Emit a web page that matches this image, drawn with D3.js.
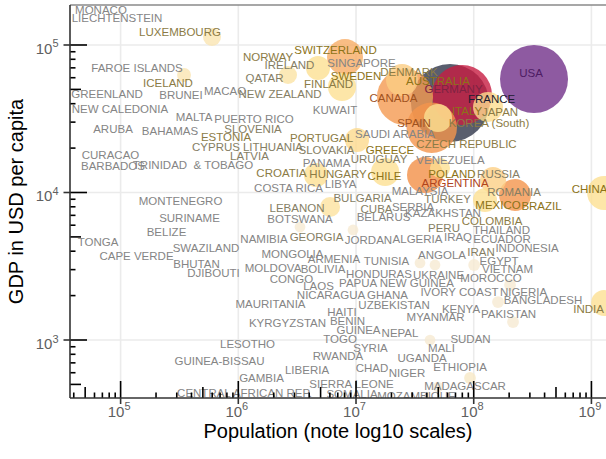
<!DOCTYPE html>
<html><head><meta charset="utf-8">
<script src="https://cdn.jsdelivr.net/npm/d3@7"></script>
<style>body{margin:0;background:#fff}svg{display:block;font-family:"Liberation Sans",Arial,Helvetica,sans-serif}</style>
</head><body><svg id="chart" width="606" height="459"></svg>
<script>
// ---- label data: country, label anchor (population, GDP per capita), colour score ----
const countries = ["MONACO","LIECHTENSTEIN","LUXEMBOURG","FAROE ISLANDS","ICELAND","GREENLAND","BRUNEI","MACAO","NEW CALEDONIA","MALTA","PUERTO RICO","ARUBA","BAHAMAS","ESTONIA","SLOVENIA","CYPRUS","LITHUANIA","LATVIA","CURACAO","BARBADOS","TRINIDAD  & TOBAGO","PORTUGAL","SAUDI ARABIA","SLOVAKIA","GREECE","PANAMA","URUGUAY","CROATIA","HUNGARY","CHILE","COSTA RICA","LIBYA","MALAYSIA","BULGARIA","CUBA","SERBIA","LEBANON","BELARUS","BOTSWANA","KAZAKHSTAN","NAMIBIA","GEORGIA","JORDAN","ALGERIA","MONGOLIA","ARMENIA","TUNISIA","MOLDOVA","BOLIVIA","HONDURAS","CONGO","PAPUA NEW GUINEA","UKRAINE","MOROCCO","LAOS","NICARAGUA","GHANA","IVORY COAST","NIGERIA","BANGLADESH","INDIA","MAURITANIA","UZBEKISTAN","KENYA","PAKISTAN","MYANMAR","HAITI","KYRGYZSTAN","BENIN","GUINEA","NEPAL","TOGO","SUDAN","LESOTHO","SYRIA","MALI","GUINEA-BISSAU","RWANDA","UGANDA","ETHIOPIA","LIBERIA","CHAD","NIGER","GAMBIA","SIERRA LEONE","MADAGASCAR","CENTRAL AFRICAN REP.","SOMALIA","MOZAMBIQUE","MONTENEGRO","SURINAME","BELIZE","TONGA","SWAZILAND","CAPE VERDE","BHUTAN","DJIBOUTI","NORWAY","SWITZERLAND","IRELAND","SINGAPORE","QATAR","SWEDEN","DENMARK","FINLAND","AUSTRALIA","NEW ZEALAND","CANADA","KUWAIT","GERMANY","FRANCE","USA","ITALY","JAPAN","KOREA (South)","SPAIN","CZECH REPUBLIC","VENEZUELA","POLAND","RUSSIA","ARGENTINA","ROMANIA","TURKEY","MEXICO","BRAZIL","CHINA","COLOMBIA","PERU","THAILAND","IRAQ","ECUADOR","INDONESIA","ANGOLA","IRAN","EGYPT","VIETNAM"];
const labelPopulation = [68100,93200,319700,137800,252700,76650,326000,771000,98830,420400,1.36e6,86180,262800,786400,1.333e6,646500,1.971e6,1.245e6,82100,86180,412200,5.093e6,2.145e7,5.615e6,1.945e7,5.615e6,1.568e7,2.328e6,7.033e6,1.747e7,2.67e6,7.385e6,3.498e7,1.136e7,1.494e7,3.05e7,3.153e6,1.713e7,3.344e6,5.485e7,1.653e6,4.617e6,1.277e7,3.33e7,2.887e6,6.504e6,1.816e7,1.971e6,5.244e6,1.568e7,2.831e6,2.209e7,5.023e7,1.403e8,4.801e6,6.134e6,1.852e7,7.576e7,2.65e8,3.879e8,9.45e8,1.877e6,2.103e7,7.801e7,1.976e8,4.738e7,7.603e6,2.618e6,8.471e6,1.05e7,2.365e7,7.313e6,9.394e7,1.197e6,1.328e7,5.325e7,692300,7.033e6,3.637e7,7.65e7,3.835e6,1.368e7,2.713e7,1.574e6,9.158e6,8.436e7,1.129e6,9.247e6,3.266e7,322800,384900,245500,64270,531600,136500,441500,615700,1.788e6,6.697e6,2.723e6,1.114e7,1.669e6,1.0e7,2.821e7,5.84e6,4.974e7,2.261e6,2.083e7,6.632e6,6.737e7,1.417e8,3.068e8,8.772e7,1.673e8,1.349e8,3.11e7,8.686e7,6.35e7,6.539e7,1.624e8,6.938e7,2.2e8,5.99e7,1.609e8,3.767e8,9.636e8,1.43e8,5.593e7,1.723e8,7.355e7,1.74e8,2.837e8,5.378e7,1.154e8,1.641e8,1.938e8];
const labelGdp = [174000,153600,123400,70400,55260,46910,45810,49150,37110,32760,31750,27160,26320,23780,26950,20340,20340,17820,18100,15250,15480,23410,25120,19560,19560,15980,17000,13670,13450,13040,10730,11510,10320,9250,7790,7975,7913,6878,6663,7318,4838,5031,4801,4838,3858,3542,3433,3077,3053,2824,2612,2454,2781,2653,2342,2020,2035,2133,2133,1882,1635,1768,1741,1635,1501,1432,1548,1304,1345,1169,1124,1024,1016,939.5,882.8,882.8,726,785,755,656,631,646,602,557,507,491.5,440.6,430.4,417.2,8828,6716,5440,4617,4205,3740,3301,2868,83560,93210,73770,76110,59760,62130,66120,54830,57450,46910,43710,36530,50710,43370,65110,35960,35410,29830,29830,21490,16740,13450,13450,11690,10160,9107,8291,8163,10640,6409,5744,5613,4993,4876,4205,3769,3950,3459,3053];
const labelScore = [0,0,2,0,2,0,0,0,0,0,0,0,0,2,1,1,1,1,0,0,0,2,0,1,3,0,1,2,2,3,0,0,0,1,1,0,1,0,0,0,0,1,0,0,0,0,0,0,0,0,0,0,0,0,0,0,0,0,0,0,2,0,0,0,0,0,0,0,0,0,0,0,0,0,0,0,0,0,0,0,0,0,0,0,0,0,0,0,0,0,0,0,0,0,0,0,0,2,3,1,0,1,3,2,2,3,1,4,0,6,7,8,3,2,2,4,2,0,3,1,5,1,1,3,3,3,2,1,0,0,0,0,0,1,0,0];

// ---- bubble data: country, population, GDP per capita, size value, colour score ----
const bubbleCountries = ["FRANCE","USA","GERMANY","CANADA","SPAIN","SWITZERLAND","POLAND","CHINA","BRAZIL","AUSTRALIA","JAPAN","KOREA (South)","SWEDEN","GREECE","RUSSIA","INDIA","NORWAY","PORTUGAL","HUNGARY","MEXICO","CZECH REPUBLIC","BULGARIA","LUXEMBOURG","QATAR","ICELAND",
  "ETHIOPIA","PAKISTAN","EGYPT","NIGERIA","BANGLADESH","UGANDA","MADAGASCAR","UKRAINE","MOROCCO","JORDAN","GEORGIA"];
const population = [6.29e7,3.253e8,7.95e7,2.609e7,4.4e7,8.065e6,3.856e7,1.282e9,2.243e8,2.459e7,1.323e8,4.974e7,7.603e6,1.767e7,1.459e8,1.282e9,4.755e6,1.02e7,4.572e6,1.247e8,5.172e7,6.015e6,597700,2.644e6,345700,
  9.30e7,2.158e8,1.008e8,2.034e8,1.609e8,4.253e7,4.974e7,3.498e7,4.69e7,9.43e6,3.344e6];
const gdpPerCapita = [40440,58820,45810,44400,27500,82900,13140,9922,9618,57900,37990,32000,51920,13770,12150,1781,69850,22690,13140,8897,14660,7975,113300,62610,62610,
  552.6,1324,3225,2360,1809,1000,480,3327,3225,5569,5835];
const bubbleSize = [132,100,78,68,55,28,28,25,22,22,19.5,17,17,17,14.6,14.6,12.5,12.5,12.5,12.5,8.7,8.7,7,7,4.2,
  3,3,3,3,3,2.5,2.5,2.5,2.5,2.5,2.5];
const bubbleScore = [7,6,5,2.8,2.9,2.4,3.0,1,2.9,1.6,1.1,1,1,1,1.5,1,1,1.2,1,1,1,0.8,0.5,0.7,0.5,
  0.2,0,0,0,0,0,0,0,0,0,0];

const xExponents = [5,6,7,8,9];
const yExponents = [3,4,5];

// ---- layout ----
const P = {left:70, top:5, right:606, bottom:398};
const svg = d3.select("#chart");
const x = d3.scaleLog().domain([37160, 1.33e9]).range([P.left, P.right]);
const y = d3.scaleLog().domain([404.4, 186700]).range([P.bottom, P.top]);
const r = d3.scaleSqrt().domain([0, 100]).range([0, 34]);
const fillScale = d3.scaleLinear().domain([0,1,2,3,4,5,6,7])
  .range(["#f6ead2","#fde092","#fac079","#f39047","#ea6527","#c71d42","#72318a","#30364a"]);
const textScale = d3.scaleOrdinal().domain(d3.range(9))
  .range(["#858585","#857e64","#8b7b45","#8c7318","#a0521e","#b0441c","#7d2342","#1c1c30","#4d1b63"]);

svg.append("defs").append("clipPath").attr("id","pc")
  .append("rect").attr("x",P.left).attr("y",P.top).attr("width",P.right-P.left).attr("height",P.bottom-P.top);

// grid
const g = svg.append("g");
xExponents.forEach(e => g.append("line").attr("x1",x(Math.pow(10,e))).attr("x2",x(Math.pow(10,e)))
  .attr("y1",P.top).attr("y2",P.bottom).attr("stroke","#ebebeb").attr("stroke-width",1.6));
yExponents.forEach(e => g.append("line").attr("y1",y(Math.pow(10,e))).attr("y2",y(Math.pow(10,e)))
  .attr("x1",P.left).attr("x2",P.right).attr("stroke","#ebebeb").attr("stroke-width",1.6));

// bubbles
const bubbles = bubbleCountries.map((c,i)=>({c, p:population[i], g:gdpPerCapita[i], s:bubbleSize[i], k:bubbleScore[i]}))
  .sort((a,b)=>b.s-a.s);
const plot = svg.append("g").attr("clip-path","url(#pc)");
plot.selectAll("circle").data(bubbles).join("circle")
  .attr("cx",d=>x(d.p)).attr("cy",d=>y(d.g)).attr("r",d=>r(d.s))
  .attr("fill",d=>fillScale(d.k)).attr("fill-opacity",0.8);

// labels
const labels = countries.map((c,i)=>({c, p:labelPopulation[i], g:labelGdp[i], k:labelScore[i]}));
plot.selectAll("text").data(labels).join("text")
  .attr("x",d=>x(d.p)).attr("y",d=>y(d.g)).attr("dy","0.36em")
  .attr("text-anchor","middle").attr("font-size","11.5px")
  .attr("fill",d=>textScale(d.k)).style("white-space","pre").text(d=>d.c);

// top border
svg.append("line").attr("x1",P.left).attr("x2",P.right).attr("y1",P.top).attr("y2",P.top)
  .attr("stroke","#8a8a8a").attr("stroke-width",1.5);

// log ticks
const lt = svg.append("g").attr("stroke","#000").attr("stroke-width",1.6);
const tlen = k => k===1?17:(k===5?11:5.5);
for (let d=4; d<=9; d++) for (let k=1;k<=9;k++){
  const v=k*Math.pow(10,d); const px=x(v);
  if (px<P.left-0.5||px>P.right) continue;
  lt.append("line").attr("x1",px).attr("x2",px).attr("y1",P.bottom).attr("y2",P.bottom-tlen(k));
}
for (let d=2; d<=5; d++) for (let k=1;k<=9;k++){
  const v=k*Math.pow(10,d); const py=y(v);
  if (py<P.top||py>P.bottom+0.5) continue;
  lt.append("line").attr("y1",py).attr("y2",py).attr("x1",P.left).attr("x2",P.left+tlen(k));
}
// axis lines and ticks
const ax = svg.append("g").attr("stroke","#333").attr("stroke-width",1.6);
ax.append("line").attr("x1",P.left).attr("x2",P.left).attr("y1",P.top).attr("y2",P.bottom);
ax.append("line").attr("x1",P.left).attr("x2",P.right).attr("y1",P.bottom).attr("y2",P.bottom);
xExponents.forEach(e=>ax.append("line").attr("x1",x(Math.pow(10,e))).attr("x2",x(Math.pow(10,e))).attr("y1",P.bottom).attr("y2",P.bottom+6));
yExponents.forEach(e=>ax.append("line").attr("y1",y(Math.pow(10,e))).attr("y2",y(Math.pow(10,e))).attr("x1",P.left).attr("x2",P.left-6.5));

// tick labels
xExponents.forEach(e=>{
  const t = svg.append("text").attr("x",x(Math.pow(10,e))-1.5).attr("y",416.5).attr("text-anchor","middle")
    .attr("fill","#606060").attr("font-size","15px");
  t.append("tspan").text("10");
  t.append("tspan").attr("dy",-6.5).attr("font-size","11px").text(e);
});
yExponents.forEach(e=>{
  const t = svg.append("text").attr("x",58.5).attr("y",y(Math.pow(10,e))+9).attr("text-anchor","end")
    .attr("fill","#606060").attr("font-size","15px");
  t.append("tspan").text("10");
  t.append("tspan").attr("dy",-6.5).attr("font-size","11px").text(e);
});

// axis titles
svg.append("text").attr("x",(P.left+P.right)/2).attr("y",438).attr("text-anchor","middle")
  .attr("font-size","20px").attr("fill","#000").text("Population (note log10 scales)");
svg.append("text").attr("transform",`translate(23,${(P.top+P.bottom)/2}) rotate(-90)`).attr("text-anchor","middle")
  .attr("font-size","20px").attr("fill","#000").text("GDP in USD per capita");
</script></body></html>
